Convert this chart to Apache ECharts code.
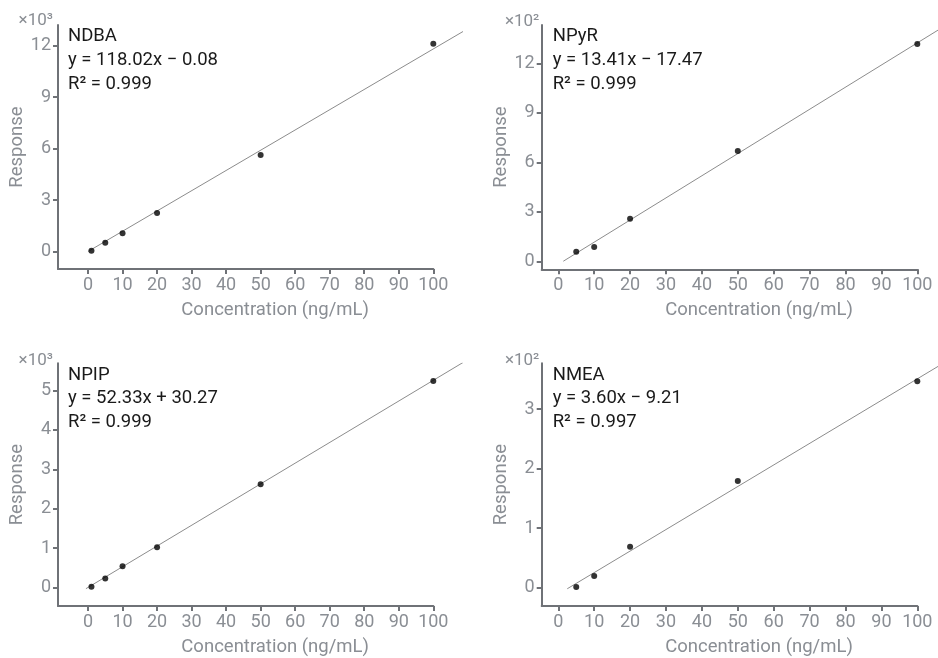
<!DOCTYPE html>
<html>
<head>
<meta charset="utf-8">
<script src="https://cdn.jsdelivr.net/npm/echarts@6/dist/echarts.min.js"></script>
<style>
html,body{margin:0;padding:0;background:#fff;}
#chart{width:938px;height:658px;}
</style>
</head>
<body>
<div id="chart"></div>
<script>
// ---- data (response values shown in axis units: x10^3 or x10^2) ----
const compounds = ['NDBA', 'NPyR', 'NPIP', 'NMEA'];
const equations = ['y = 118.02x \u2212 0.08', 'y = 13.41x \u2212 17.47', 'y = 52.33x + 30.27', 'y = 3.60x \u2212 9.21'];
const r2Labels = ['R\u00b2 = 0.999', 'R\u00b2 = 0.999', 'R\u00b2 = 0.999', 'R\u00b2 = 0.997'];
const scaleLabels = ['\u00d710\u00b3', '\u00d710\u00b2', '\u00d710\u00b3', '\u00d710\u00b2'];

const ndbaConc = [1, 5, 10, 20, 50, 100];
const ndbaResp = [0.05, 0.51, 1.07, 2.25, 5.63, 12.11];
const npyrConc = [5, 10, 20, 50, 100];
const npyrResp = [0.58, 0.87, 2.58, 6.68, 13.17];
const npipConc = [1, 5, 10, 20, 50, 100];
const npipResp = [0.02, 0.23, 0.54, 1.02, 2.62, 5.24];
const nmeaConc = [5, 10, 20, 50, 100];
const nmeaResp = [0.01, 0.195, 0.686, 1.79, 3.47];

// fitted line end points
const ndbaFitX = [0, 108.6];   const ndbaFitY = [0.0, 12.82];
const npyrFitX = [1.4, 108.6]; const npyrFitY = [0.01, 14.39];
const npipFitX = [-0.6, 108.6]; const npipFitY = [0.0, 5.71];
const nmeaFitX = [2.5, 108.6]; const nmeaFitY = [0.0, 3.82];

const xTicks = [0, 10, 20, 30, 40, 50, 60, 70, 80, 90, 100];
const yTicks1 = [0, 3, 6, 9, 12];
const yTicks2 = [0, 3, 6, 9, 12];
const yTicks3 = [0, 1, 2, 3, 4, 5];
const yTicks4 = [0, 1, 2, 3];

// ---- layout ----
const FONT = 'Roboto';
const AXIS_COLOR = '#6f7277';
const LABEL_COLOR = '#8a8e94';
const TEXT_COLOR = '#1a1a1a';
const X_MAX = 100, CANVAS_W = 938, LINE_EXT = 112;

const panels = [
  {grid: {left: 58, top: 25, width: 375.3, height: 244}, xMin: -8.69, yMin: -1.02, yMax: 13.2, yTicks: yTicks1,
   conc: ndbaConc, resp: ndbaResp, fitX: ndbaFitX, fitY: ndbaFitY, textX: 68, textY: 36.7, scaleX: 53, scaleY: 21},
  {grid: {left: 541.7, top: 25, width: 375.6, height: 244.3}, xMin: -4.62, yMin: -0.48, yMax: 14.32, yTicks: yTicks2,
   conc: npyrConc, resp: npyrResp, fitX: npyrFitX, fitY: npyrFitY, textX: 552.7, textY: 36.7, scaleX: 539.3, scaleY: 21.7},
  {grid: {left: 58, top: 363.3, width: 375.3, height: 244}, xMin: -8.69, yMin: -0.47, yMax: 5.69, yTicks: yTicks3,
   conc: npipConc, resp: npipResp, fitX: npipFitX, fitY: npipFitY, textX: 68, textY: 375, scaleX: 53, scaleY: 360.7},
  {grid: {left: 541.7, top: 363.3, width: 375.6, height: 244}, xMin: -4.62, yMin: -0.31, yMax: 3.77, yTicks: yTicks4,
   conc: nmeaConc, resp: nmeaResp, fitX: nmeaFitX, fitY: nmeaFitY, textX: 552.7, textY: 375, scaleX: 539.3, scaleY: 360.7}
];

const grids = [], xAxes = [], yAxes = [], series = [], graphics = [];
const n = panels.length;
panels.forEach((p, i) => {
  grids.push(Object.assign({containLabel: false}, p.grid));
  xAxes.push({
    type: 'value', gridIndex: i, min: p.xMin, max: X_MAX,
    name: 'Concentration (ng/mL)', nameLocation: 'middle', nameGap: 32,
    nameTextStyle: {fontFamily: FONT, fontSize: 18.5, color: LABEL_COLOR, padding: [0, 0, 0, 59]},
    axisLine: {show: true, onZero: false, lineStyle: {color: AXIS_COLOR, width: 2}},
    axisTick: {show: true, length: 5, customValues: xTicks, lineStyle: {color: AXIS_COLOR, width: 2}},
    axisLabel: {customValues: xTicks, margin: 7, fontFamily: FONT, fontSize: 18, color: LABEL_COLOR},
    splitLine: {show: false}
  });
  yAxes.push({
    type: 'value', gridIndex: i, min: p.yMin, max: p.yMax,
    name: 'Response', nameLocation: 'middle', nameGap: 31,
    nameTextStyle: {fontFamily: FONT, fontSize: 18.5, color: LABEL_COLOR},
    axisLine: {show: true, onZero: false, lineStyle: {color: AXIS_COLOR, width: 2}},
    axisTick: {show: true, length: 5, customValues: p.yTicks, lineStyle: {color: AXIS_COLOR, width: 2}},
    axisLabel: {customValues: p.yTicks, margin: 7, fontFamily: FONT, fontSize: 18, color: LABEL_COLOR},
    splitLine: {show: false}
  });
  series.push({
    type: 'scatter', xAxisIndex: i, yAxisIndex: i, symbolSize: 6, clip: false, z: 3,
    itemStyle: {color: '#000'},
    data: p.conc.map((x, k) => [x, p.resp[k]])
  });
  const lines = [compounds[i], equations[i], r2Labels[i]];
  lines.forEach((t, k) => {
    graphics.push({type: 'text', x: p.textX, y: p.textY + k * 23.8, silent: true,
      style: {text: t, font: '18.5px ' + FONT, fill: TEXT_COLOR, textAlign: 'left', textVerticalAlign: 'middle'}});
  });
  graphics.push({type: 'text', x: p.scaleX, y: p.scaleY, silent: true,
    style: {text: scaleLabels[i], font: '17px ' + FONT, fill: LABEL_COLOR, textAlign: 'right', textVerticalAlign: 'middle'}});
});
// hidden companion grids (same scale, wider x range, kept inside the canvas)
// so the fitted lines can run past x = 100 like in the original
panels.forEach((p, i) => {
  const j = n + i;
  const pxPerUnit = p.grid.width / (X_MAX - p.xMin);
  const maxW = CANVAS_W - p.grid.left;
  const w = Math.min(maxW, pxPerUnit * (LINE_EXT - p.xMin));
  const lineXMax = p.xMin + w / pxPerUnit;
  grids.push({left: p.grid.left, top: p.grid.top, width: w, height: p.grid.height, containLabel: false});
  xAxes.push({type: 'value', gridIndex: j, min: p.xMin, max: lineXMax, show: false});
  yAxes.push({type: 'value', gridIndex: j, min: p.yMin, max: p.yMax, show: false});
  series.push({
    type: 'line', xAxisIndex: j, yAxisIndex: j, symbol: 'none', silent: true, z: 2,
    lineStyle: {color: '#8c8c8c', width: 1},
    data: p.fitX.map((x, k) => [x, p.fitY[k]])
  });
});

const chart = echarts.init(document.getElementById('chart'), null, {renderer: 'canvas'});
chart.setOption({
  animation: false,
  backgroundColor: '#ffffff',
  textStyle: {fontFamily: FONT},
  grid: grids, xAxis: xAxes, yAxis: yAxes, series: series, graphic: graphics
});
</script>
</body>
</html>
